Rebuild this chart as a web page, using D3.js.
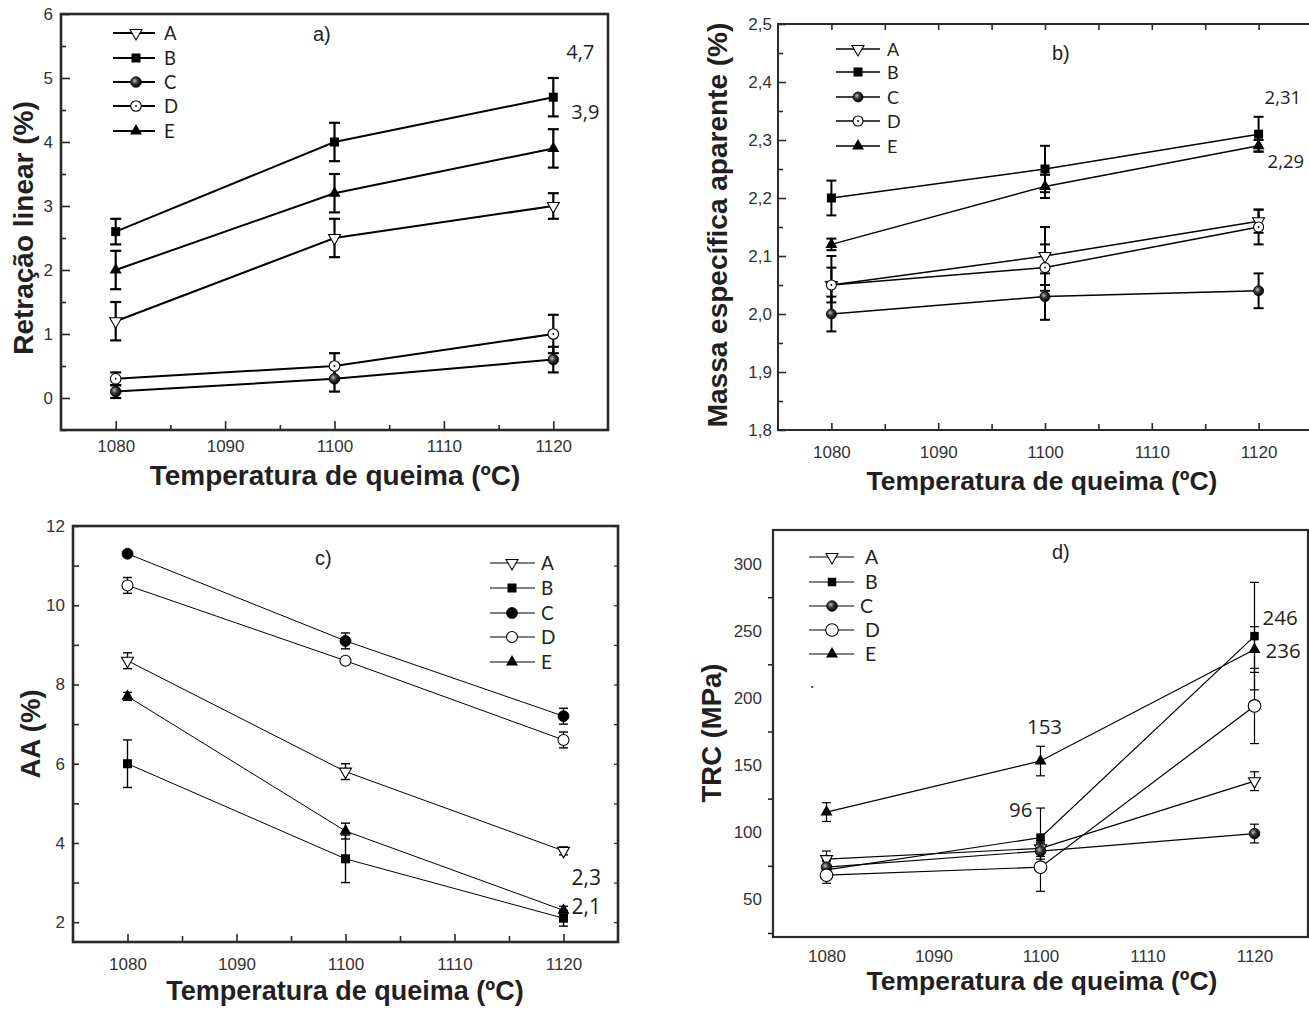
<!DOCTYPE html>
<html>
<head>
<meta charset="utf-8">
<script src="https://cdn.jsdelivr.net/npm/d3@7"></script>
<style>
  body { margin: 0; background: #fff; }
  svg { display: block; }
</style>
</head>
<body>
<svg id="chart" width="1309" height="1010"></svg>
<script>
// ---- data -------------------------------------------------------------
const temperatures = [1080, 1100, 1120];
const seriesNames = ["A", "B", "C", "D", "E"];

// a) Retração linear (%) — rows follow seriesNames
const retracao    = [[1.2, 2.5, 3.0], [2.6, 4.0, 4.7], [0.1, 0.3, 0.6], [0.3, 0.5, 1.0], [2.0, 3.2, 3.9]];
const retracaoErr = [[0.3, 0.3, 0.2], [0.2, 0.3, 0.3], [0.1, 0.2, 0.2], [0.1, 0.2, 0.3], [0.3, 0.3, 0.3]];

// b) Massa específica aparente
const massa    = [[2.05, 2.10, 2.16], [2.20, 2.25, 2.31], [2.00, 2.03, 2.04], [2.05, 2.08, 2.15], [2.12, 2.22, 2.29]];
const massaErr = [[0.05, 0.05, 0.02], [0.03, 0.04, 0.03], [0.03, 0.04, 0.03], [0.03, 0.04, 0.03], [0.01, 0.02, 0.01]];

// c) AA (%)
const absorcao    = [[8.6, 5.8, 3.8], [6.0, 3.6, 2.1], [11.3, 9.1, 7.2], [10.5, 8.6, 6.6], [7.7, 4.3, 2.3]];
const absorcaoErr = [[0.2, 0.2, 0.1], [0.6, 0.6, 0.2], [0.05, 0.2, 0.2], [0.2, 0.05, 0.2], [0.1, 0.2, 0.1]];

// d) TRC (MPa)
const trc    = [[80, 88, 138], [72, 96, 246], [74, 86, 99], [68, 74, 194], [115, 153, 236]];
const trcErr = [[6, 6, 7], [6, 22, 40], [5, 6, 7], [6, 18, 28], [7, 11, 17]];

// tick values
const xMajorTicks = [1080, 1090, 1100, 1110, 1120];
const xMinorTicks = [1085, 1095, 1105, 1115];
const retracaoTicks = [0, 1, 2, 3, 4, 5, 6];
const retracaoMinor = [-0.5, 0.5, 1.5, 2.5, 3.5, 4.5, 5.5];
const massaTicks = [1.8, 1.9, 2.0, 2.1, 2.2, 2.3, 2.4, 2.5];
const massaMinor = [1.85, 1.95, 2.05, 2.15, 2.25, 2.35, 2.45];
const absorcaoTicks = [2, 4, 6, 8, 10, 12];
const absorcaoMinor = [3, 5, 7, 9, 11];
const trcTicks = [50, 100, 150, 200, 250, 300];
const trcMinor = [25, 75, 125, 175, 225, 275];

// ---- drawing ----------------------------------------------------------
const svg = d3.select("#chart");
const INK = "#231f20";
const commaFmt = (f) => (v) => d3.format(f)(v).replace(".", ",");

const defs = svg.append("defs");
const grad = defs.append("radialGradient").attr("id", "sphere")
  .attr("cx", "0.38").attr("cy", "0.38").attr("r", "0.62");
grad.append("stop").attr("offset", "0").attr("stop-color", "#bdbdbd");
grad.append("stop").attr("offset", "0.45").attr("stop-color", "#3a3a3a");
grad.append("stop").attr("offset", "1").attr("stop-color", "#000");

function drawMarker(g, s, cx, cy, st) {
  const m = g.append("g").attr("transform", `translate(${cx},${cy})`);
  if (s === 0) { // open inverted triangle
    const w = st.tri, h = w * 0.87;
    m.append("path").attr("d", `M${-w/2},${-h/3}L${w/2},${-h/3}L0,${2*h/3}Z`)
      .attr("fill", "#fff").attr("stroke", "#000").attr("stroke-width", 1.1);
  } else if (s === 1) { // filled square
    m.append("rect").attr("x", -st.sq/2).attr("y", -st.sq/2)
      .attr("width", st.sq).attr("height", st.sq).attr("fill", "#000");
  } else if (s === 2) { // shaded / filled circle
    m.append("circle").attr("r", st.r)
      .attr("fill", st.sphere ? "url(#sphere)" : "#000")
      .attr("stroke", "#000").attr("stroke-width", 0.8);
  } else if (s === 3) { // open circle
    m.append("circle").attr("r", st.rOpen || st.r)
      .attr("fill", "#fff").attr("stroke", "#000").attr("stroke-width", 1.1);
    if (st.dot) m.append("circle").attr("r", 0.9).attr("fill", "#000");
  } else { // filled triangle
    const w = st.tri, h = w * 0.87;
    m.append("path").attr("d", `M${-w/2},${h/3}L${w/2},${h/3}L0,${-2*h/3}Z`)
      .attr("fill", "#000");
  }
}

function drawPanel(p) {
  const g = svg.append("g");
  const x = d3.scaleLinear().domain([1075, 1125]).range([p.x0, p.x1]);
  const y = d3.scaleLinear().domain(p.yDomain).range([p.y1, p.y0]);

  // frame
  g.append("rect").attr("x", p.x0).attr("y", p.y0)
    .attr("width", p.x1 - p.x0).attr("height", p.y1 - p.y0)
    .attr("fill", "none").attr("stroke", "#2a2a2a").attr("stroke-width", p.frameW);

  // x axis labels + ticks
  const xa = g.append("g").attr("transform", `translate(0,${p.y1})`)
    .call(d3.axisBottom(x).tickValues(xMajorTicks).tickFormat(d3.format("d"))
      .tickSize(p.xTickMajor).tickPadding(p.xPad));
  xa.select(".domain").remove();
  xa.selectAll("text").attr("font-family", "Liberation Sans, Arial, sans-serif")
    .attr("font-size", p.tickFont).attr("fill", "#333");
  xa.selectAll("line").attr("stroke", "#2a2a2a").attr("stroke-width", 1.6);
  if (p.xTickMinor) {
    const xm = g.append("g").attr("transform", `translate(0,${p.y1})`)
      .call(d3.axisBottom(x).tickValues(xMinorTicks).tickFormat("").tickSize(p.xTickMinor));
    xm.select(".domain").remove();
    xm.selectAll("line").attr("stroke", "#2a2a2a").attr("stroke-width", 1.6);
  }
  if (p.topTicks) {
    const xt = g.append("g").attr("transform", `translate(0,${p.y0})`)
      .call(d3.axisTop(x).tickValues(xMajorTicks.concat(xMinorTicks)).tickFormat("").tickSize(-6));
    xt.select(".domain").remove();
    xt.selectAll("line").attr("stroke", "#2a2a2a").attr("stroke-width", 1.6);
  }

  // y axis labels + ticks
  const ya = g.append("g").attr("transform", `translate(${p.x0},0)`)
    .call(d3.axisLeft(y).tickValues(p.yTicks).tickFormat(p.yFmt)
      .tickSize(p.yTickMajor).tickPadding(p.yPad));
  ya.select(".domain").remove();
  ya.selectAll("text").attr("font-family", "Liberation Sans, Arial, sans-serif")
    .attr("font-size", p.tickFont).attr("fill", "#333");
  ya.selectAll("line").attr("stroke", "#2a2a2a").attr("stroke-width", 1.6);
  const ym = g.append("g").attr("transform", `translate(${p.x0},0)`)
    .call(d3.axisLeft(y).tickValues(p.yMinor).tickFormat("").tickSize(p.yTickMinor));
  ym.select(".domain").remove();
  ym.selectAll("line").attr("stroke", "#2a2a2a").attr("stroke-width", 1.6);
  if (p.rightTicks) {
    const yr = g.append("g").attr("transform", `translate(${p.x1},0)`)
      .call(d3.axisRight(y).tickValues(p.yTicks.concat(p.yMinor)).tickFormat("").tickSize(-4));
    yr.select(".domain").remove();
    yr.selectAll("line").attr("stroke", "#2a2a2a").attr("stroke-width", 1.2);
  }

  // axis titles
  g.append("text").attr("x", p.xTitle[0]).attr("y", p.xTitle[1])
    .attr("text-anchor", "middle").attr("font-family", "Liberation Sans, Arial, sans-serif")
    .attr("font-weight", "bold").attr("font-size", p.xTitleSize).attr("fill", INK)
    .text("Temperatura de queima (ºC)");
  g.append("text")
    .attr("transform", `translate(${p.yTitle[0]},${p.yTitle[1]}) rotate(-90)`)
    .attr("text-anchor", "middle").attr("font-family", "Liberation Sans, Arial, sans-serif")
    .attr("font-weight", "bold").attr("font-size", p.yTitleSize).attr("fill", INK)
    .text(p.yLabel);

  // panel tag
  g.append("text").attr("x", p.tag[0]).attr("y", p.tag[1])
    .attr("font-family", "Liberation Sans, Arial, sans-serif").attr("font-size", 20)
    .attr("fill", INK).text(p.tagText);

  // series lines
  const line = d3.line().x((d, i) => x(temperatures[i])).y(d => y(d));
  p.values.forEach((vals) => {
    g.append("path").attr("d", line(vals)).attr("fill", "none")
      .attr("stroke", "#000").attr("stroke-width", p.lineW);
  });

  // error bars
  p.values.forEach((vals, s) => {
    vals.forEach((v, i) => {
      const e = p.errors[s][i];
      const cx = x(temperatures[i]);
      const eb = g.append("g").attr("stroke", "#000").attr("stroke-width", p.errW);
      eb.append("line").attr("x1", cx).attr("x2", cx).attr("y1", y(v - e)).attr("y2", y(v + e));
      [v - e, v + e].forEach(b => {
        eb.append("line").attr("x1", cx - p.capW / 2).attr("x2", cx + p.capW / 2)
          .attr("y1", y(b)).attr("y2", y(b));
      });
    });
  });

  // markers
  p.values.forEach((vals, s) => {
    vals.forEach((v, i) => drawMarker(g, s, x(temperatures[i]), y(v), p.marker));
  });

  // value annotations
  p.notes.forEach(n => {
    const v = p.values[n.s][n.i];
    g.append("text").attr("x", x(temperatures[n.i]) + n.dx).attr("y", y(v) + n.dy)
      .attr("text-anchor", n.anchor || "start")
      .attr("font-family", "Open Sans, Noto Sans, sans-serif")
      .attr("font-size", p.noteSize).attr("fill", INK)
      .text(p.noteFmt(v));
  });

  // legend
  seriesNames.forEach((name, s) => {
    const ly = p.legend.rows[s];
    g.append("line").attr("x1", p.legend.x0).attr("x2", p.legend.x1)
      .attr("y1", ly).attr("y2", ly).attr("stroke", "#000").attr("stroke-width", p.legend.lw || 1.2);
    drawMarker(g, s, p.legend.mx, ly, p.marker);
    g.append("text").attr("x", p.legend.tx[s]).attr("y", ly + 6.5)
      .attr("font-family", "Lato, Open Sans, sans-serif")
      .attr("font-size", p.legend.size).attr("fill", INK).text(name);
  });
  return g;
}

// a)
drawPanel({
  values: retracao, errors: retracaoErr,
  x0: 61, x1: 608, y0: 14, y1: 430, yDomain: [-0.5, 6],
  yTicks: retracaoTicks, yMinor: retracaoMinor, yFmt: d3.format("d"),
  frameW: 2.6, tickFont: 17, xPad: 10, yPad: 8,
  xTickMajor: -9, xTickMinor: -5, yTickMajor: -9, yTickMinor: -5,
  xTitle: [335, 485], xTitleSize: 28, yTitle: [33, 228], yTitleSize: 28,
  yLabel: "Retração linear (%)", tag: [313, 41], tagText: "a)",
  lineW: 2, errW: 2.2, capW: 11,
  marker: { sq: 9, tri: 12, r: 5.3, sphere: true, dot: true },
  notes: [{ s: 1, i: 2, dx: 13, dy: -38 }, { s: 4, i: 2, dx: 18, dy: -29 }],
  noteSize: 20, noteFmt: commaFmt(".1f"),
  legend: { x0: 113, x1: 155, mx: 136, tx: [164, 164, 164, 164, 164], rows: [33, 58, 82, 106, 131], size: 18.5, lw: 1.8 }
});

// b)
drawPanel({
  values: massa, errors: massaErr,
  x0: 778, x1: 1312, y0: 24, y1: 430, yDomain: [1.8, 2.5],
  yTicks: massaTicks, yMinor: massaMinor, yFmt: commaFmt(".1f"),
  frameW: 2, tickFont: 17, xPad: 16, yPad: 6, topTicks: true,
  xTickMajor: -7, xTickMinor: -6, yTickMajor: -8, yTickMinor: -5,
  xTitle: [1042, 490], xTitleSize: 26.5, yTitle: [727, 225], yTitleSize: 28,
  yLabel: "Massa específica aparente (%)", tag: [1052, 60], tagText: "b)",
  lineW: 1.5, errW: 2, capW: 10,
  marker: { sq: 9, tri: 12, r: 5, sphere: true, dot: true },
  notes: [{ s: 1, i: 2, dx: 6, dy: -30 }, { s: 4, i: 2, dx: 9, dy: 22 }],
  noteSize: 18.5, noteFmt: commaFmt(".2f"),
  legend: { x0: 836, x1: 880, mx: 858, tx: [887, 887, 887, 887, 887], rows: [49, 72, 97, 121, 146], size: 18, lw: 1.5 }
});

// c)
drawPanel({
  values: absorcao, errors: absorcaoErr,
  x0: 73, x1: 618, y0: 526, y1: 942, yDomain: [1.5, 12],
  yTicks: absorcaoTicks, yMinor: absorcaoMinor, yFmt: d3.format("d"),
  frameW: 2.6, tickFont: 17, xPad: 16, yPad: 8, rightTicks: true,
  xTickMajor: -8, xTickMinor: -6, yTickMajor: -6, yTickMinor: -6,
  xTitle: [345, 1000], xTitleSize: 27, yTitle: [40, 734], yTitleSize: 27.5,
  yLabel: "AA (%)", tag: [315, 565], tagText: "c)",
  lineW: 1, errW: 1.4, capW: 9,
  marker: { sq: 9, tri: 12, r: 5.5, sphere: false, dot: false },
  notes: [{ s: 4, i: 2, dx: 8, dy: -25 }, { s: 1, i: 2, dx: 8, dy: -4 }],
  noteSize: 21, noteFmt: commaFmt(".1f"),
  legend: { x0: 490, x1: 535, mx: 512, tx: [541, 541, 541, 541, 541], rows: [563, 588, 613, 637, 662], size: 19 }
});

// d)
const dPanel = drawPanel({
  values: trc, errors: trcErr,
  x0: 773, x1: 1308, y0: 530, y1: 937, yDomain: [22, 325],
  yTicks: trcTicks, yMinor: trcMinor, yFmt: d3.format("d"),
  frameW: 2.2, tickFont: 17, xPad: 13, yPad: 11,
  xTickMajor: 0, xTickMinor: 0, yTickMajor: 0, yTickMinor: 5,
  xTitle: [1042, 990], xTitleSize: 26.5, yTitle: [721, 733], yTitleSize: 27.5,
  yLabel: "TRC (MPa)", tag: [1052, 559], tagText: "d)",
  lineW: 1.2, errW: 1.2, capW: 9,
  marker: { sq: 8.5, tri: 12, r: 5.3, rOpen: 6.3, sphere: true, dot: false },
  notes: [
    { s: 4, i: 1, dx: 4, dy: -27, anchor: "middle" },
    { s: 1, i: 1, dx: -8, dy: -21, anchor: "end" },
    { s: 1, i: 2, dx: 8, dy: -11 },
    { s: 4, i: 2, dx: 11, dy: 8 }
  ],
  noteSize: 20.5, noteFmt: d3.format("d"),
  legend: { x0: 809, x1: 854, mx: 832, tx: [865, 865, 860, 865, 865], rows: [557, 582, 606, 630, 654], size: 19.5 }
});
dPanel.append("text").attr("x", 810).attr("y", 688)
  .attr("font-family", "Open Sans, Noto Sans, sans-serif").attr("font-size", 16)
  .attr("fill", INK).text(".");
</script>
</body>
</html>
